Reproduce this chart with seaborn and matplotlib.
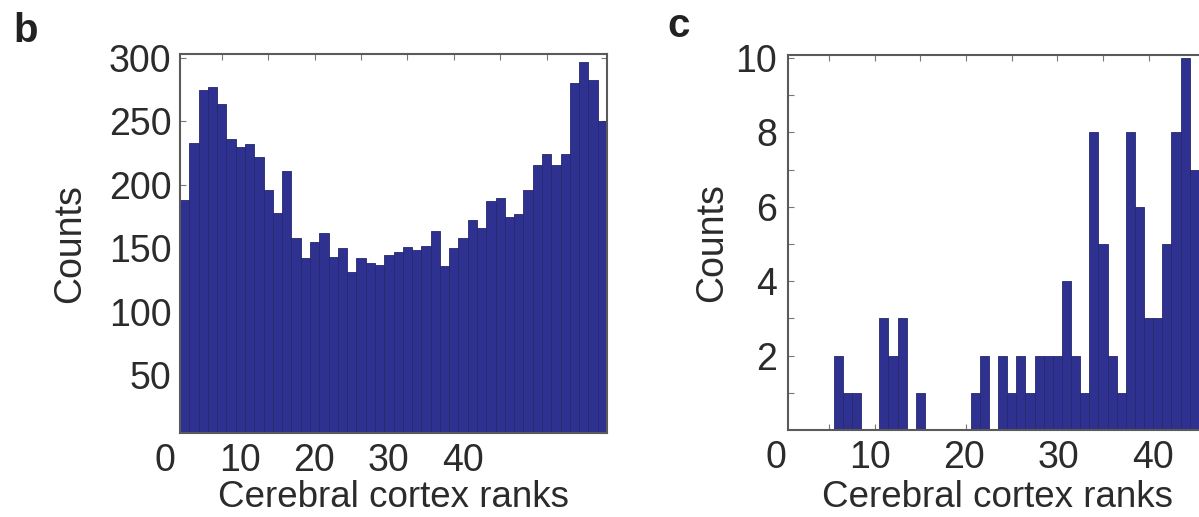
import numpy as np
import pandas as pd
import matplotlib
matplotlib.use("Agg")
import matplotlib.pyplot as plt
import seaborn as sns

# ---------------- data ----------------
ranks_b = np.arange(1, 47)
counts_b = [188, 233, 275, 277, 264, 236, 230, 232, 222, 196, 178, 211, 158, 142, 155,
            162, 143, 150, 131, 142, 138, 137, 145, 147, 151, 149, 152, 164, 136, 150,
            158, 172, 166, 187, 190, 175, 177, 196, 216, 224, 216, 224, 280, 297, 283, 250]
ranks_c = np.arange(1, 46)
counts_c = [0, 0, 0, 0, 0, 2, 1, 1, 0, 0, 3, 2, 3, 0, 1, 0, 0, 0, 0, 0, 1, 2, 0, 2, 1,
            2, 1, 2, 2, 2, 4, 2, 1, 8, 5, 2, 1, 8, 6, 3, 3, 5, 8, 10, 7]
xtick_labels = [0, 10, 20, 30, 40]
data_ticks = [5, 10, 15, 20, 25, 30, 35, 40]
yticks_b = [50, 100, 150, 200, 250, 300]
yticks_c = [2, 4, 6, 8, 10]
yminor_c = [1, 3, 5, 7, 9]
panel_letters = ["b", "c"]
xlabel_text = "Cerebral cortex ranks"
ylabel_text = "Counts"

# ---------------- style ----------------
sns.set_style("ticks")
plt.rcParams['font.family'] = ['Liberation Sans', 'DejaVu Sans']

W, H = 1199, 517
fig = plt.figure(figsize=(W / 100, H / 100), dpi=100)


def px_axes(l, r, t, b):
    return [l / W, 1 - b / H, (r - l) / W, (b - t) / H]


bar_color = '#2e3190'
edge_color = '#25276f'
text_color = '#2b2b2b'
frame_color = '#5a5a5a'
FS = 27


def draw_panel(rect, ranks, counts, ylim, yticks, yminor, ypad, lab_rect, ylab_x, xlab_y):
    ax = fig.add_axes(rect)
    df = pd.DataFrame({'rank': ranks, 'count': counts})
    sns.histplot(data=df, x='rank', weights='count', discrete=True, ax=ax,
                 color=bar_color, edgecolor=edge_color, linewidth=0.6, alpha=1)
    ax.set_xlim(0.5, 46.5)
    ax.set_ylim(*ylim)
    ax.set_xticks(data_ticks)
    ax.set_xticklabels([])
    ax.set_yticks(yticks)
    ax.set_yticklabels([str(v) for v in yticks])
    if yminor:
        ax.set_yticks(yminor, minor=True)
    ax.tick_params(axis='both', which='both', direction='in', length=4, width=0.8,
                   color='#777777', top=True, right=True)
    ax.tick_params(axis='y', labelsize=FS, labelcolor=text_color, pad=ypad)
    for s in ax.spines.values():
        s.set_color(frame_color)
        s.set_linewidth(1.5)
        s.set_visible(True)
    ax.set_xlabel(xlabel_text, fontsize=26.5, color=text_color)
    ax.set_ylabel(ylabel_text, fontsize=FS, color=text_color)
    ax.yaxis.set_label_coords(ylab_x, 0.5)
    ax.xaxis.set_label_coords(0.5, xlab_y)

    # tick label axis (labels printed offset from data ticks as in the figure)
    lab = fig.add_axes(lab_rect)
    lab.set_xlim(0, 40)
    lab.set_xticks(xtick_labels)
    lab.set_xticklabels([str(v) for v in xtick_labels])
    lab.set_yticks([])
    lab.patch.set_visible(False)
    for s in lab.spines.values():
        s.set_visible(False)
    lab.tick_params(axis='x', length=0, labelsize=FS, labelcolor=text_color, pad=7)
    return ax


axb = draw_panel(px_axes(180, 607, 54, 433), ranks_b, counts_b, (4.3, 303.2), yticks_b, None, 6,
                 px_axes(165, 463, 432, 433), (88 - 180) / 427, (433 - 480) / 379)
axc = draw_panel(px_axes(788, 1208, 55, 430), ranks_c, counts_c, (0, 10.08), yticks_c, yminor_c, 8,
                 px_axes(775.6, 1153, 429, 430), (730 - 788) / 420, (430 - 480) / 375)

fig.text(13 / W, 1 - 42 / H, panel_letters[0], fontsize=29, fontweight='bold', color='#222222',
         va='baseline', ha='left')
fig.text(667 / W, 1 - 37 / H, panel_letters[1], fontsize=29, fontweight='bold', color='#222222',
         va='baseline', ha='left')

fig.savefig("out.png", dpi=100)
